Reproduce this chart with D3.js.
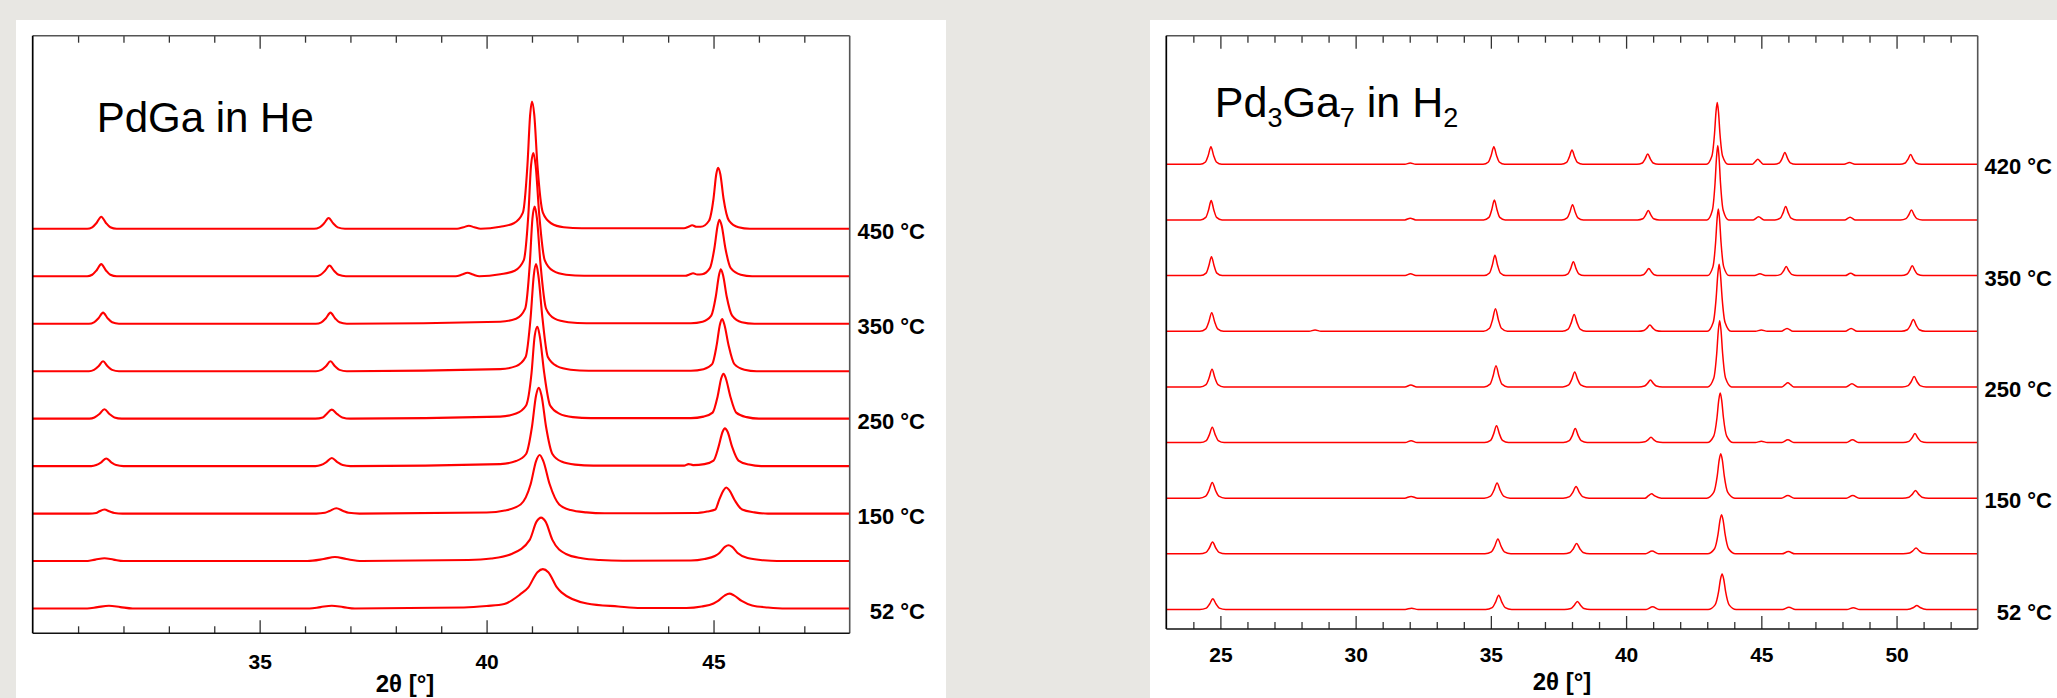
<!DOCTYPE html>
<html><head><meta charset="utf-8">
<script src="https://cdn.jsdelivr.net/npm/d3@7"></script>
<style>
html,body{margin:0;padding:0;background:#e8e7e3;}
svg{display:block;}
text{font-family:"Liberation Sans",Arial,Helvetica,sans-serif;}
</style>
</head><body>
<svg id="chart" width="2057" height="698"></svg>
<script>
// ---------------- DATA ----------------
// Left panel: PdGa in He
const leftDomain = [30, 48];
const leftMajorTicks = [35, 40, 45];
const leftMinorTicks = [31,32,33,34,36,37,38,39,41,42,43,44,46,47];
const leftLabels = ["450 °C", null, "350 °C", null, "250 °C", null, "150 °C", null, "52 °C"];
const leftOffsets = [376, 329, 282, 235, 188, 141, 94, 47, 0];
// each pattern: [2θ, intensity (a.u.)] points, top (450 °C) to bottom (52 °C)
const leftPatterns = [
[[30,0],[31.2,0],[31.31,1.5],[31.41,6],[31.51,12],[31.61,6],[31.71,1.5],[31.85,0],
 [36.2,0],[36.32,1.4],[36.42,5.4],[36.52,10.7],[36.62,5.4],[36.72,1.4],[36.88,0],
 [39.35,0],[39.49,1.5],[39.61,3],[39.73,1.5],[39.87,0],
 [40.3,2],[40.6,5.5],[40.8,16],[40.9,63],[40.96,113],[41.0,126],[41.05,113],[41.12,63],[41.24,16],[41.42,5.5],[41.7,1.5],[42.1,0.5],
 [44.35,0.5],[44.45,2],[44.53,3.5],[44.62,2],[44.72,2],[44.9,8],[45.0,30],[45.06,54],[45.1,60.5],[45.15,54],[45.22,30],[45.34,8],[45.55,1.5],[45.8,0],[48,0]],
[[30,0],[31.2,0],[31.31,1.5],[31.41,6],[31.51,12],[31.61,6],[31.71,1.5],[31.85,0],
 [36.22,0],[36.34,1.4],[36.44,5.4],[36.54,10.7],[36.64,5.4],[36.74,1.4],[36.9,0],
 [39.32,0],[39.46,1.7],[39.58,3.5],[39.7,1.7],[39.84,0],
 [40.3,2],[40.62,5.5],[40.82,16],[40.92,61],[40.98,110],[41.03,122],[41.08,110],[41.16,61],[41.28,16],[41.46,5.5],[41.75,1.5],[42.15,0.5],
 [44.38,0.5],[44.47,1.8],[44.55,3],[44.64,1.8],[44.75,2],[44.92,8],[45.02,28],[45.09,50],[45.13,56],[45.18,50],[45.26,28],[45.38,8],[45.6,1.5],[45.85,0],[48,0]],
[[30,0],[31.24,0],[31.35,1.4],[31.45,5.5],[31.55,11],[31.65,5.5],[31.75,1.4],[31.9,0],
 [36.24,0],[36.36,1.4],[36.46,5.5],[36.56,11],[36.66,5.5],[36.76,1.4],[36.92,0],
 [40.3,2],[40.65,5],[40.85,15],[40.95,58],[41.01,104],[41.06,116],[41.11,104],[41.19,58],[41.31,15],[41.5,5],[41.8,1.5],[42.2,0.5],
 [44.5,0.5],[44.76,2],[44.95,8],[45.05,27],[45.12,48],[45.16,54],[45.21,48],[45.29,27],[45.41,8],[45.62,1.5],[45.9,0],[48,0]],
[[30,0],[31.24,0],[31.35,1.3],[31.45,4.9],[31.55,9.8],[31.65,4.9],[31.75,1.3],[31.9,0],
 [36.24,0],[36.36,1.3],[36.46,4.9],[36.56,9.8],[36.66,4.9],[36.76,1.3],[36.92,0],
 [40.3,2],[40.65,5],[40.86,14],[40.97,53],[41.04,95],[41.09,106],[41.14,95],[41.23,53],[41.35,14],[41.55,5],[41.85,1.5],[42.25,0.5],
 [44.5,0.5],[44.78,2],[44.97,7],[45.07,26],[45.14,46],[45.19,51.6],[45.24,46],[45.33,26],[45.46,7],[45.68,1.5],[45.95,0],[48,0]],
[[30,0],[31.25,0],[31.36,1.2],[31.47,4.6],[31.58,9.3],[31.69,4.6],[31.8,1.2],[31.96,0],
 [36.23,0],[36.39,1.2],[36.47,4.4],[36.59,8.9],[36.71,4.4],[36.82,1.2],[37.0,0],
 [40.3,2],[40.65,5],[40.87,13],[40.99,45],[41.06,82],[41.12,91],[41.17,82],[41.27,45],[41.4,13],[41.6,5],[41.9,1.5],[42.3,0.5],
 [44.5,0.5],[44.78,2],[44.98,6],[45.09,22],[45.17,40],[45.22,44.5],[45.27,40],[45.37,22],[45.5,6],[45.73,1.5],[46.0,0],[48,0]],
[[30,0],[31.29,0],[31.4,1],[31.51,3.8],[31.62,7.6],[31.73,3.8],[31.84,1],[32.0,0],
 [36.23,0],[36.35,1],[36.47,4],[36.59,8],[36.71,4],[36.83,1],[37.0,0],
 [40.3,2],[40.65,5],[40.87,12],[41.0,39],[41.09,70],[41.15,77.5],[41.21,70],[41.31,39],[41.45,12],[41.65,4.5],[41.95,1.5],[42.35,0.5],
 [44.35,0.5],[44.45,2],[44.55,1],[44.8,2],[45.0,5.5],[45.11,19],[45.2,34],[45.25,37.4],[45.31,34],[45.41,19],[45.55,5.5],[45.78,1.5],[46.05,0],[48,0]],
[[30,0],[31.24,0],[31.4,0.6],[31.46,2],[31.58,4],[31.7,2],[31.8,0.6],[31.98,0],
 [36.25,0],[36.44,0.8],[36.54,2.6],[36.69,5.3],[36.84,2.6],[36.96,0.8],[37.2,0],
 [40.0,1],[40.4,3],[40.75,9],[40.97,29],[41.09,52],[41.17,58],[41.25,52],[41.39,29],[41.6,9],[41.85,3.5],[42.2,1.2],[42.6,0.3],
 [44.6,0.5],[44.86,2],[45.04,4],[45.12,13],[45.22,23],[45.28,25.8],[45.35,23],[45.47,13],[45.63,4],[45.9,1.2],[46.2,0],[48,0]],
[[30,0],[31.15,0],[31.38,1.4],[31.58,2.7],[31.78,1.4],[32.0,0],
 [36.05,0],[36.41,2],[36.66,4],[36.91,2],[37.25,0],
 [39.6,1],[40.1,2.5],[40.55,7],[40.95,21],[41.1,39],[41.2,43],[41.3,39],[41.45,21],[41.75,7],[42.1,2.8],[42.5,1],[43.0,0.3],
 [44.5,0.5],[44.8,2],[45.03,5],[45.13,8],[45.25,14],[45.33,15.6],[45.41,14],[45.53,8],[45.75,3],[46.1,0.8],[46.4,0],[48,0]],
[[30,0],[31.2,0],[31.43,1.4],[31.68,2.7],[31.93,1.4],[32.2,0],
 [36.1,0],[36.34,1.4],[36.59,2.7],[36.84,1.4],[37.1,0],
 [39.5,1],[40.0,2.5],[40.39,4.5],[40.74,14],[40.92,21],[41.12,36],[41.24,39],[41.36,36],[41.55,21],[41.65,16],[42.21,5],[42.9,2],[43.4,0.5],
 [44.4,0.5],[44.74,2],[45.0,5],[45.1,7.5],[45.25,13],[45.35,14.7],[45.45,13],[45.62,7.5],[45.85,3],[46.2,1],[46.6,0],[48,0]]
];

// Right panel: Pd3Ga7 in H2
const rightDomain = [23, 53];
const rightMajorTicks = [25, 30, 35, 40, 45, 50];
const rightMinorTicks = [24,26,27,28,29,31,32,33,34,36,37,38,39,41,42,43,44,46,47,48,49,51,52];
const rightLabels = ["420 °C", null, "350 °C", null, "250 °C", null, "150 °C", null, "52 °C"];
const rightOffsets = [440, 385, 330, 275, 220, 165, 110, 55, 0];
const rightPatterns = [
[[23,0],[24.25,0],[24.45,2.3],[24.55,8.7],[24.65,17.4],[24.75,8.7],[24.85,2.3],[25.05,0],
 [31.82,0],[32.02,1.3],[32.22,0],
 [34.71,0],[34.91,2.3],[35.01,8.7],[35.11,17.4],[35.21,8.7],[35.31,2.3],[35.51,0],
 [37.6,0],[37.8,1.8],[37.9,7.1],[38.0,14.2],[38.1,7.1],[38.2,1.8],[38.4,0],
 [40.4,0],[40.6,1.3],[40.7,5.1],[40.8,10.2],[40.9,5.1],[41.0,1.3],[41.2,0],
 [42.97,0],[43.17,7.9],[43.27,30.5],[43.325,52],[43.37,61],[43.415,52],[43.47,30.5],[43.57,7.9],[43.77,0],
 [44.67,0],[44.77,2.5],[44.87,4.9],[44.97,2.5],[45.07,0],
 [45.47,0],[45.67,1.5],[45.77,5.8],[45.87,11.6],[45.97,5.8],[46.07,1.5],[46.27,0],
 [48.06,0],[48.26,1.8],[48.46,0],
 [50.12,0],[50.32,1.3],[50.42,4.9],[50.52,9.8],[50.62,4.9],[50.72,1.3],[50.92,0],[53,0]],
[[23,0],[24.26,0],[24.46,2.5],[24.56,9.6],[24.66,19.1],[24.76,9.6],[24.86,2.5],[25.06,0],
 [31.82,0],[32.02,1.8],[32.22,0],
 [34.73,0],[34.93,2.5],[35.03,9.8],[35.13,19.6],[35.23,9.8],[35.33,2.5],[35.53,0],
 [37.62,0],[37.82,2],[37.92,7.6],[38.02,15.1],[38.12,7.6],[38.22,2],[38.42,0],
 [40.42,0],[40.62,1.2],[40.72,4.7],[40.82,9.4],[40.92,4.7],[41.02,1.2],[41.22,0],
 [42.99,0],[43.19,9.6],[43.29,36.8],[43.345,62.5],[43.39,73.5],[43.435,62.5],[43.49,36.8],[43.59,9.6],[43.79,0],
 [44.7,0],[44.9,3.1],[45.1,0],
 [45.5,0],[45.7,1.7],[45.8,6.7],[45.9,13.4],[46.0,6.7],[46.1,1.7],[46.3,0],
 [48.08,0],[48.28,2.7],[48.48,0],
 [50.15,0],[50.35,1.3],[50.45,4.9],[50.55,9.8],[50.65,4.9],[50.75,1.3],[50.95,0],[53,0]],
[[23,0],[24.27,0],[24.47,2.4],[24.57,9.4],[24.67,18.7],[24.77,9.4],[24.87,2.4],[25.07,0],
 [31.83,0],[32.03,1.8],[32.23,0],
 [34.75,0],[34.95,2.6],[35.05,10],[35.15,20],[35.25,10],[35.35,2.6],[35.55,0],
 [37.65,0],[37.85,1.8],[37.95,6.9],[38.05,13.8],[38.15,6.9],[38.25,1.8],[38.45,0],
 [40.44,0],[40.64,0.9],[40.74,3.6],[40.84,7.1],[40.94,3.6],[41.04,0.9],[41.24,0],
 [43.01,0],[43.21,8.6],[43.31,33],[43.365,56],[43.41,65.9],[43.455,56],[43.51,33],[43.61,8.6],[43.81,0],
 [44.75,0],[44.95,1.8],[45.15,0],
 [45.52,0],[45.72,1.2],[45.82,4.5],[45.92,8.9],[46.02,4.5],[46.12,1.2],[46.32,0],
 [48.1,0],[48.3,2.2],[48.5,0],
 [50.18,0],[50.38,1.3],[50.48,4.9],[50.58,9.8],[50.68,4.9],[50.78,1.3],[50.98,0],[53,0]],
[[23,0],[24.24,0],[24.46,2.4],[24.57,9.2],[24.68,18.3],[24.79,9.2],[24.9,2.4],[25.12,0],
 [28.28,0],[28.5,1.3],[28.72,0],
 [34.73,0],[34.95,2.9],[35.06,11.2],[35.17,22.3],[35.28,11.2],[35.39,2.9],[35.61,0],
 [37.64,0],[37.86,2.1],[37.97,8.3],[38.08,16.5],[38.19,8.3],[38.3,2.1],[38.52,0],
 [40.44,0],[40.66,0.8],[40.77,3.1],[40.88,6.2],[40.99,3.1],[41.1,0.8],[41.32,0],
 [43.0,0],[43.22,8.6],[43.33,33],[43.39,56],[43.44,66.3],[43.49,56],[43.55,33],[43.66,8.6],[43.88,0],
 [44.78,0],[45.0,1.3],[45.22,0],
 [45.73,0],[45.95,2.7],[46.17,0],
 [48.1,0],[48.32,2.7],[48.54,0],
 [50.18,0],[50.4,1.5],[50.51,5.8],[50.62,11.6],[50.73,5.8],[50.84,1.5],[51.06,0],[53,0]],
[[23,0],[24.25,0],[24.47,2.3],[24.58,8.7],[24.69,17.4],[24.8,8.7],[24.91,2.3],[25.13,0],
 [31.82,0],[32.04,1.8],[32.26,0],
 [34.75,0],[34.97,2.7],[35.08,10.5],[35.19,20.9],[35.3,10.5],[35.41,2.7],[35.63,0],
 [37.66,0],[37.88,1.9],[37.99,7.4],[38.1,14.7],[38.21,7.4],[38.32,1.9],[38.54,0],
 [40.46,0],[40.68,0.9],[40.79,3.4],[40.9,6.7],[41.01,3.4],[41.12,0.9],[41.34,0],
 [43.02,0],[43.24,8.5],[43.35,32.8],[43.41,55.7],[43.46,65.5],[43.51,55.7],[43.57,32.8],[43.68,8.5],[43.9,0],
 [45.76,0],[45.87,2],[45.98,4],[46.09,2],[46.2,0],
 [48.13,0],[48.35,3.1],[48.57,0],
 [50.21,0],[50.43,1.3],[50.54,5.1],[50.65,10.2],[50.76,5.1],[50.87,1.3],[51.09,0],[53,0]],
[[23,0],[24.26,0],[24.48,2],[24.59,7.6],[24.7,15.1],[24.81,7.6],[24.92,2],[25.14,0],
 [31.83,0],[32.05,1.8],[32.27,0],
 [34.77,0],[34.99,2.1],[35.1,8.3],[35.21,16.5],[35.32,8.3],[35.43,2.1],[35.65,0],
 [37.68,0],[37.9,1.8],[38.01,6.9],[38.12,13.8],[38.23,6.9],[38.34,1.8],[38.56,0],
 [40.48,0],[40.7,0.7],[40.81,2.7],[40.92,5.3],[41.03,2.7],[41.14,0.7],[41.36,0],
 [43.0,0],[43.24,6.4],[43.36,24.5],[43.425,41.7],[43.48,49],[43.535,41.7],[43.6,24.5],[43.72,6.4],[43.96,0],
 [44.78,0],[45.0,1.3],[45.22,0],
 [45.76,0],[45.98,2.7],[46.2,0],
 [48.15,0],[48.37,2.7],[48.59,0],
 [50.24,0],[50.46,1.2],[50.57,4.5],[50.68,8.9],[50.79,4.5],[50.9,1.2],[51.12,0],[53,0]],
[[23,0],[24.22,0],[24.46,2],[24.58,7.8],[24.7,15.6],[24.82,7.8],[24.94,2],[25.18,0],
 [31.81,0],[32.05,1.8],[32.29,0],
 [34.75,0],[34.99,2],[35.11,7.6],[35.23,15.1],[35.35,7.6],[35.47,2],[35.71,0],
 [37.67,0],[37.91,1.5],[38.03,5.8],[38.15,11.6],[38.27,5.8],[38.39,1.5],[38.63,0],
 [40.7,0],[40.82,2.2],[40.94,4.5],[41.06,2.2],[41.3,0],
 [42.98,0],[43.24,5.7],[43.37,22],[43.44,37.4],[43.5,44],[43.56,37.4],[43.63,22],[43.76,5.7],[44.02,0],
 [45.74,0],[45.98,2.7],[46.22,0],
 [48.14,0],[48.38,2.7],[48.62,0],
 [50.22,0],[50.46,1],[50.58,3.8],[50.7,7.6],[50.82,3.8],[50.94,1],[51.18,0],[53,0]],
[[23,0],[24.23,0],[24.47,1.5],[24.59,5.8],[24.71,11.6],[24.83,5.8],[24.95,1.5],[25.19,0],
 [34.78,0],[35.02,1.9],[35.14,7.4],[35.26,14.7],[35.38,7.4],[35.5,1.9],[35.74,0],
 [37.69,0],[37.93,1.3],[38.05,5.1],[38.17,10.2],[38.29,5.1],[38.41,1.3],[38.65,0],
 [40.72,0],[40.96,2.7],[41.2,0],
 [43.01,0],[43.27,5],[43.4,19.4],[43.47,32.9],[43.53,38.7],[43.59,32.9],[43.66,19.4],[43.79,5],[44.05,0],
 [45.76,0],[46.0,2.2],[46.24,0],
 [50.24,0],[50.48,0.8],[50.6,2.9],[50.72,5.8],[50.84,2.9],[50.96,0.8],[51.2,0],[53,0]],
[[23,0],[24.24,0],[24.48,1.4],[24.6,5.4],[24.72,10.7],[24.84,5.4],[24.96,1.4],[25.2,0],
 [31.83,0],[32.07,1.3],[32.31,0],
 [34.81,0],[35.05,1.8],[35.17,7.1],[35.29,14.2],[35.41,7.1],[35.53,1.8],[35.77,0],
 [37.72,0],[37.96,1],[38.08,4],[38.2,8],[38.32,4],[38.44,1],[38.68,0],
 [40.74,0],[40.98,2.7],[41.22,0],
 [43.03,0],[43.29,4.6],[43.42,17.6],[43.49,29.9],[43.55,35.2],[43.61,29.9],[43.68,17.6],[43.81,4.6],[44.07,0],
 [45.78,0],[46.02,2.2],[46.26,0],
 [48.16,0],[48.4,1.8],[48.64,0],
 [50.39,0],[50.63,2],[50.75,4],[50.87,2],[51.11,0],[53,0]]
];

const axisTitle = "2θ [°]";

// ---------------- DRAWING ----------------
const svg = d3.select("#chart");
svg.append("rect").attr("width", 2057).attr("height", 698).attr("fill", "#e8e7e3");

const panels = [
  { bg:[16,20,930,678], frame:{x0:32.7,x1:849.7,y0:35.7,y1:633.3}, domain:leftDomain,
    major:leftMajorTicks, minor:leftMinorTicks, offsets:leftOffsets, patterns:leftPatterns,
    labels:leftLabels, yRange:[608.5,228.8], yMax:376, labelX:925, strokeW:2.1,
    tickPad:21, xTitle:[405,692], title:{x:96.7,y:131.7,size:42,parts:[["PdGa in He",0]]} },
  { bg:[1150,20,907,678], frame:{x0:1166.3,x1:1977.7,y0:35.7,y1:629}, domain:rightDomain,
    major:rightMajorTicks, minor:rightMinorTicks, offsets:rightOffsets, patterns:rightPatterns,
    labels:rightLabels, yRange:[609.5,164.3], yMax:440, labelX:2052, strokeW:1.5,
    tickPad:18.5, xTitle:[1562,690], title:{x:1214.8,y:116.7,size:43,parts:[["Pd",0],["3",1],["Ga",0],["7",1],[" in H",0],["2",1]]} }
];

panels.forEach((p, pi) => {
  const g = svg.append("g");
  g.append("rect").attr("x", p.bg[0]).attr("y", p.bg[1]).attr("width", p.bg[2]).attr("height", p.bg[3]).attr("fill", "#fff");
  const f = p.frame;
  const x = d3.scaleLinear().domain(p.domain).range([f.x0, f.x1]);
  const y = d3.scaleLinear().domain([0, p.yMax]).range(p.yRange);

  const clipId = "clip" + pi;
  g.append("clipPath").attr("id", clipId).append("rect")
    .attr("x", f.x0).attr("y", f.y0).attr("width", f.x1 - f.x0).attr("height", f.y1 - f.y0);

  const line = d3.line().curve(d3.curveMonotoneX);
  const cg = g.append("g").attr("clip-path", `url(#${clipId})`);
  p.patterns.forEach((pat, i) => {
    const off = p.offsets[i];
    cg.append("path")
      .attr("d", line(pat.map(d => [x(d[0]), y(d[1] + off)])))
      .attr("fill", "none").attr("stroke", "#ff0000")
      .attr("stroke-width", p.strokeW).attr("stroke-linejoin", "round");
  });

  const mk = (axisFn, ticks, size, labeled, yPos) => {
    const a = axisFn(x).tickValues(ticks).tickSizeInner(size).tickSizeOuter(0);
    if (labeled) a.tickFormat(d3.format("d")).tickPadding(p.tickPad); else a.tickFormat("");
    const ag = g.append("g").attr("transform", `translate(0,${yPos})`).call(a);
    ag.select(".domain").remove();
    ag.selectAll(".tick line").attr("stroke", "#333").attr("stroke-width", 1.3);
    ag.selectAll(".tick text").attr("font-size", 21).attr("font-weight", "bold")
      .attr("fill", "#000").attr("font-family", '"Liberation Sans",Arial,sans-serif');
    return ag;
  };
  mk(d3.axisBottom, p.major, -13, true, f.y1);
  mk(d3.axisBottom, p.minor, -7, false, f.y1);
  mk(d3.axisTop, p.major, -13, false, f.y0);
  mk(d3.axisTop, p.minor, -7, false, f.y0);

  g.append("line").attr("x1", f.x0).attr("x2", f.x1).attr("y1", f.y0).attr("y2", f.y0).attr("stroke", "#555").attr("stroke-width", 1.4);
  g.append("line").attr("x1", f.x1).attr("x2", f.x1).attr("y1", f.y0).attr("y2", f.y1).attr("stroke", "#555").attr("stroke-width", 1.6);
  g.append("line").attr("x1", f.x0).attr("x2", f.x0).attr("y1", f.y0).attr("y2", f.y1).attr("stroke", "#000").attr("stroke-width", 1.7);
  g.append("line").attr("x1", f.x0).attr("x2", f.x1).attr("y1", f.y1).attr("y2", f.y1).attr("stroke", "#111").attr("stroke-width", 1.5);

  p.labels.forEach((lab, i) => {
    if (!lab) return;
    g.append("text").attr("x", p.labelX).attr("y", y(p.offsets[i]) + 10)
      .attr("text-anchor", "end").attr("font-size", 22).attr("font-weight", "bold")
      .attr("fill", "#000").text(lab);
  });

  g.append("text").attr("x", p.xTitle[0]).attr("y", p.xTitle[1]).attr("text-anchor", "middle")
    .attr("font-size", 24).attr("font-weight", "bold").attr("fill", "#000").text(axisTitle);

  const t = g.append("text").attr("x", p.title.x).attr("y", p.title.y)
    .attr("font-size", p.title.size).attr("fill", "#000");
  let sub = false;
  p.title.parts.forEach(([s, isSub]) => {
    const ts = t.append("tspan").text(s);
    if (isSub && !sub) { ts.attr("dy", 10.5).attr("font-size", 27); sub = true; }
    else if (isSub) { ts.attr("font-size", 27); }
    else if (!isSub && sub) { ts.attr("dy", -10.5); sub = false; }
  });
});
</script>
</body></html>
